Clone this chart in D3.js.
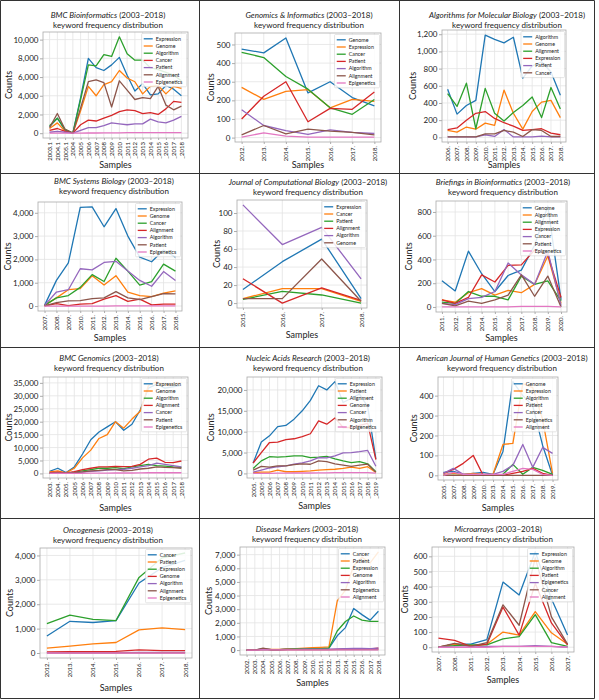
<!DOCTYPE html>
<html><head><meta charset="utf-8">
<script src="https://cdn.jsdelivr.net/npm/d3@7"></script>
<style>
body{margin:0;background:#fff;}
svg{display:block;}
text{font-family:Lato,"Open Sans",sans-serif;font-weight:400;fill:#222;}
</style>
</head><body>
<svg id="chart" width="599" height="700"></svg>
<script>
// ---------- DATA ----------
const p1Journal = "BMC Bioinformatics";
const p1Categories = ["2003.1","2004.1","2005.1","_2004","_2005","_2006","_2007","_2008","_2009","_2010","_2011","_2012","_2013","_2014","_2015","_2016","_2017","_2018"];
const p1Keywords = ["Expression","Genome","Algorithm","Cancer","Patient","Alignment","Epigenetics"];
const p1Counts = [
  [700,1600,300,0,3800,8000,7000,6700,7300,8100,6200,4500,5300,4100,4200,5100,4700,4000],
  [500,1100,200,0,2400,5000,4000,5200,5500,6700,5900,5500,4200,5000,5100,4200,5000,4800],
  [800,1600,400,0,3600,7300,7200,8400,8200,10300,8500,7800,7800,7000,6800,6500,6200,5600],
  [300,500,200,0,900,1400,1300,1600,1900,2300,2500,2400,2100,2200,2000,2600,3400,3300],
  [100,200,100,0,300,600,600,800,1100,1000,900,1000,1000,1500,1200,1100,1400,1800],
  [600,2100,400,0,2700,5500,5700,5400,2800,5600,4600,3600,3800,3700,5000,3000,2500,2900],
  [0,0,0,0,0,20,20,30,40,40,50,50,50,60,60,60,60,70]
];
const p1YTicks = [0,2000,4000,6000,8000,10000];

const p2Journal = "Genomics & Informatics";
const p2Categories = ["2012.","2013.","2014.","2015.","2016.","2017.","2018."];
const p2Keywords = ["Genome","Expression","Cancer","Patient","Algorithm","Alignment","Epigenetics"];
const p2Counts = [
  [475,455,535,240,300,215,170],
  [270,205,248,258,160,205,195],
  [458,430,328,260,160,125,205],
  [100,222,300,85,157,152,245],
  [150,65,38,17,42,28,22],
  [15,65,20,45,35,28,15],
  [3,25,8,3,3,3,3]
];
const p2YTicks = [0,100,200,300,400,500];

const p3Journal = "Algorithms for Molecular Biology";
const p3Categories = ["2006.","2007.","2008.","2009.","2010.","2011.","2012.","2013.","2014.","2015.","2016.","2017.","2018."];
const p3Keywords = ["Algorithm","Genome","Alignment","Expression","Patient","Cancer"];
const p3Counts = [
  [560,270,370,430,1190,1140,1100,1165,690,830,880,760,490],
  [80,60,120,95,165,140,550,280,95,300,410,430,230],
  [510,360,630,100,570,280,190,290,370,470,230,580,330],
  [90,110,200,280,300,220,170,130,80,90,100,50,30],
  [5,5,5,5,30,10,90,5,5,5,15,5,5],
  [5,5,5,5,40,40,80,60,10,90,80,10,10]
];
const p3YTicks = [0,200,400,600,800,1000,1200];

const p4Journal = "BMC Systems Biology";
const p4Categories = ["2007.","2008.","2009.","2010.","2011.","2012.","2013.","2014.","2015.","2016.","2017.","2018."];
const p4Keywords = ["Expression","Genome","Cancer","Alignment","Algorithm","Patient","Epigenetics"];
const p4Counts = [
  [30,1100,1850,4230,4250,3400,4180,3000,2100,1900,2400,2100],
  [30,350,700,750,1300,900,1300,600,450,400,550,650],
  [30,350,450,800,1350,1050,2050,1500,900,1050,1800,1500],
  [10,100,20,80,100,300,450,200,300,50,80,80],
  [30,600,700,1600,1550,1870,1920,1500,1100,850,1480,1100],
  [10,150,220,230,320,350,620,350,280,400,530,520],
  [0,0,0,0,0,0,10,10,10,10,10,10]
];
const p4YTicks = [0,1000,2000,3000,4000];

const p5Journal = "Journal of Computational Biology";
const p5Categories = ["2015.","2016.","2017.","2018."];
const p5Keywords = ["Expression","Cancer","Patient","Alignment","Algorithm","Genome"];
const p5Counts = [
  [15,46,71,5],
  [5,16,16,2],
  [4,13,9,0],
  [27,0,17,3],
  [109,65,84,27],
  [5,5,49,2]
];
const p5YTicks = [0,20,40,60,80,100];

const p6Journal = "Briefings in Bioinformatics";
const p6Categories = ["2011.","2012.","2013.","2014.","2015.","2016.","2017.","2018.","2019.","2020."];
const p6Keywords = ["Genome","Algorithm","Alignment","Expression","Cancer","Patient","Epigenetics"];
const p6Counts = [
  [220,135,470,280,130,265,310,520,850,60],
  [60,40,120,155,100,140,120,190,430,30],
  [40,30,130,90,90,60,260,190,220,50],
  [60,30,80,270,210,350,355,480,440,80],
  [30,20,70,80,130,370,270,190,470,10],
  [30,10,50,30,60,100,270,90,260,0],
  [0,0,0,0,0,0,5,5,5,0]
];
const p6YTicks = [0,200,400,600,800];

const p7Journal = "BMC Genomics";
const p7Categories = ["2003.","2004.","2005.","_2005","_2006","_2007","_2008","_2009","_2010","_2011","_2012","_2013","_2014","_2015","_2016","_2017","_2018"];
const p7Keywords = ["Expression","Genome","Algorithm","Alignment","Cancer","Patient","Epigenetics"];
const p7Counts = [
  [800,2000,300,2500,7500,13000,16000,18000,20000,16700,19000,24500,33000,34500,33000,33500,34000],
  [600,1000,200,2000,6000,9000,13500,15000,20000,17500,21000,24000,34000,35500,34000,34500,35000],
  [100,200,100,500,1000,1500,2000,2000,2200,1800,2500,3000,3500,3000,2800,2500,2300],
  [300,500,100,700,1500,2000,2500,2500,2700,2600,2700,3500,5500,5900,4300,4200,4800],
  [50,100,50,300,500,800,1000,1300,1500,1600,2000,2500,3000,4000,3500,3000,2500],
  [50,100,50,300,600,1000,1200,1500,1500,1000,1200,1700,2000,2500,2300,2200,2000],
  [0,0,0,0,50,100,100,100,150,150,150,200,250,250,250,250,250]
];
const p7YTicks = [0,5000,10000,15000,20000,25000,30000,35000];

const p8Journal = "Nucleic Acids Research";
const p8Categories = ["2005.","_2005","_2006","_2007","_2008","_2009","_2010","_2011","_2012","_2013","_2014","_2015","_2016","_2017","_2018","_2019"];
const p8Keywords = ["Expression","Patient","Alignment","Genome","Cancer","Algorithm","Epigenetics"];
const p8Counts = [
  [2500,7500,9000,11200,11500,13000,15000,17500,21000,20000,22000,17000,18000,19000,16000,3500],
  [200,300,300,800,400,400,500,600,800,900,1000,1200,1500,1200,1600,200],
  [1200,3000,4000,3900,4000,4200,4200,3800,3900,4100,3500,3000,2600,2800,2300,400],
  [2500,5000,7400,7500,8100,8300,8800,9500,12600,11800,13300,11000,11000,11500,12000,3300],
  [300,800,1300,1600,1800,2200,2500,3000,3800,3700,4200,4900,5000,5200,5500,1700],
  [800,1700,1500,1800,1800,2100,2300,2200,3000,2800,2300,2000,1700,2000,2200,300],
  [0,0,0,50,50,100,100,100,150,150,200,200,200,200,200,50]
];
const p8YTicks = [0,5000,10000,15000,20000];

const p9Journal = "American Journal of Human Genetics";
const p9Categories = ["2005.","2007.","2008.","2009.","2010.","2013.","2014.","2015.","2016.","2017.","2018.","2019."];
const p9Keywords = ["Genome","Expression","Algorithm","Patient","Cancer","Epigenetics","Alignment"];
const p9Counts = [
  [15,20,5,10,15,5,120,470,400,350,150,0],
  [5,10,5,10,5,5,155,160,460,440,280,10],
  [0,0,0,0,0,0,5,55,5,40,25,5],
  [10,30,60,100,0,0,0,10,20,35,10,0],
  [10,35,5,5,5,5,20,50,155,40,140,110],
  [0,0,0,0,0,0,0,0,0,0,0,0],
  [0,15,5,5,5,5,5,20,35,30,5,0]
];
const p9YTicks = [0,100,200,300,400];

const p10Journal = "Oncogenesis";
const p10Categories = ["2012.","2013.","2014.","2015.","2016.","2017.","2018."];
const p10Keywords = ["Cancer","Patient","Expression","Genome","Algorithm","Alignment","Epigenetics"];
const p10Counts = [
  [700,1300,1250,1330,2870,3500,3800],
  [200,280,370,430,950,1030,960],
  [1200,1550,1380,1330,3100,3900,4100],
  [50,60,60,70,130,100,100],
  [10,10,10,10,20,20,20],
  [5,5,5,5,10,10,10],
  [0,0,0,0,0,0,0]
];
const p10YTicks = [0,1000,2000,3000,4000];

const p11Journal = "Disease Markers";
const p11Categories = ["2002.","2003.","2004.","2005.","2006.","2007.","2008.","2009.","2010.","2011.","2012.","2013.","2014.","2015.","2016.","2017.","2018."];
const p11Keywords = ["Cancer","Patient","Expression","Genome","Algorithm","Epigenetics","Alignment"];
const p11Counts = [
  [0,0,100,30,30,100,80,100,100,100,150,1050,1650,3050,2600,2200,2850],
  [0,20,50,50,50,80,100,150,180,200,230,3600,4400,6200,6800,6400,7200],
  [0,0,50,20,30,50,80,80,100,100,150,1400,2100,2500,2200,2100,2100],
  [0,0,50,20,20,30,30,30,30,30,30,50,80,100,100,80,150],
  [0,0,50,30,30,50,50,60,60,60,60,80,100,120,120,100,150],
  [0,0,150,30,30,30,30,30,30,30,30,30,30,30,30,30,30],
  [0,0,10,10,10,10,10,10,10,10,10,10,10,10,10,10,10]
];
const p11YTicks = [0,1000,2000,3000,4000,5000,6000,7000];

const p12Journal = "Microarrays";
const p12Categories = ["2007.","2008.","2011.","2012.","2013.","2014.","2015.","2016.","2017."];
const p12Keywords = ["Expression","Genome","Algorithm","Patient","Epigenetics","Cancer","Alignment"];
const p12Counts = [
  [0,20,20,50,430,345,630,320,80],
  [0,20,10,20,100,80,235,95,20],
  [0,10,15,15,55,70,215,30,5],
  [60,45,5,20,265,80,420,160,15],
  [0,0,0,5,5,5,10,5,0],
  [0,25,5,30,280,145,590,200,20],
  [0,0,0,0,5,5,5,5,0]
];
const p12YTicks = [0,100,200,300,400,500,600];

const titleSuffix = " (2003\u20132018)";
const titleLine2 = "keyword frequency distribution";
const yLabel = "Counts";
const xLabel = "Samples";

// ---------- STYLE / LAYOUT ----------
const FONT = 'Lato,"Open Sans",sans-serif';
const palette = ["#1f77b4","#ff7f0e","#2ca02c","#d62728","#9467bd","#8c564b","#e377c2"];

const panels = [
  {journal:p1Journal, cats:p1Categories, keys:p1Keywords, vals:p1Counts, ticks:p1YTicks},
  {journal:p2Journal, cats:p2Categories, keys:p2Keywords, vals:p2Counts, ticks:p2YTicks},
  {journal:p3Journal, cats:p3Categories, keys:p3Keywords, vals:p3Counts, ticks:p3YTicks},
  {journal:p4Journal, cats:p4Categories, keys:p4Keywords, vals:p4Counts, ticks:p4YTicks},
  {journal:p5Journal, cats:p5Categories, keys:p5Keywords, vals:p5Counts, ticks:p5YTicks},
  {journal:p6Journal, cats:p6Categories, keys:p6Keywords, vals:p6Counts, ticks:p6YTicks},
  {journal:p7Journal, cats:p7Categories, keys:p7Keywords, vals:p7Counts, ticks:p7YTicks},
  {journal:p8Journal, cats:p8Categories, keys:p8Keywords, vals:p8Counts, ticks:p8YTicks},
  {journal:p9Journal, cats:p9Categories, keys:p9Keywords, vals:p9Counts, ticks:p9YTicks},
  {journal:p10Journal, cats:p10Categories, keys:p10Keywords, vals:p10Counts, ticks:p10YTicks},
  {journal:p11Journal, cats:p11Categories, keys:p11Keywords, vals:p11Counts, ticks:p11YTicks},
  {journal:p12Journal, cats:p12Categories, keys:p12Keywords, vals:p12Counts, ticks:p12YTicks}
];

// plot boxes: L,R,T,B ; title center x, title baseline y ; y-label x ; x-label baseline y
const layouts = [
  {L:43, R:188,T:32, B:138,tx:108,ty:18, cx:9,  sy:168},
  {L:235,R:381,T:33, B:142,tx:309,ty:18, cx:211,sy:168},
  {L:442,R:566,T:30, B:142,tx:507,ty:18, cx:413,sy:168},
  {L:38, R:182,T:202,B:311,tx:114,ty:184,cx:8,  sy:341},
  {L:237,R:367,T:200,B:308,tx:308,ty:185,cx:217,sy:338},
  {L:436,R:567,T:201,B:312,tx:503,ty:185,cx:409,sy:341},
  {L:43, R:188,T:377,B:478,tx:109,ty:361,cx:9,  sy:511},
  {L:247,R:382,T:377,B:478,tx:308,ty:361,cx:211,sy:509},
  {L:438,R:558,T:377,B:480,tx:502,ty:361,cx:414,sy:511},
  {L:40, R:192,T:548,B:658,tx:108,ty:533,cx:10, sy:691},
  {L:240,R:385,T:547,B:655,tx:307,ty:532,cx:209,sy:686},
  {L:432,R:574,T:547,B:652,tx:498,ty:532,cx:405,sy:683}
];

const svg = d3.select("#chart");
svg.append("rect").attr("width",599).attr("height",700).attr("fill","#fff");

// table frame
const gridG = svg.append("g").attr("stroke","#333").attr("stroke-width",1).attr("fill","none");
[0.5,173.5,347.5,518.5,698.5].forEach(y=>gridG.append("line").attr("x1",0.5).attr("x2",594.5).attr("y1",y).attr("y2",y));
[0.5,199.5,399.5,594.5].forEach(x=>gridG.append("line").attr("x1",x).attr("x2",x).attr("y1",0.5).attr("y2",698.5));

panels.forEach((p,i)=>{
  const lay = layouts[i];
  const g = svg.append("g");
  const n = p.cats.length;
  const x = d3.scaleLinear().domain([-0.05*(n-1),(n-1)*1.05]).range([lay.L,lay.R]);
  const all = p.vals.flat();
  const mn = d3.min(all), mx = d3.max(all), r = mx-mn;
  const y = d3.scaleLinear().domain([mn-0.05*r, mx+0.05*r]).range([lay.B,lay.T]);

  // background grid
  const grid = g.append("g").attr("stroke","#e3e3e3").attr("stroke-width",0.8);
  p.cats.forEach((c,k)=>grid.append("line").attr("x1",x(k)).attr("x2",x(k)).attr("y1",lay.T).attr("y2",lay.B));
  p.ticks.forEach(t=>grid.append("line").attr("x1",lay.L).attr("x2",lay.R).attr("y1",y(t)).attr("y2",y(t)));

  // axes via d3
  const yAxis = d3.axisLeft(y).tickValues(p.ticks).tickFormat(d3.format(",")).tickSize(3).tickPadding(1.5);
  const ya = g.append("g").attr("transform",`translate(${lay.L},0)`).call(yAxis);
  ya.attr("font-family",FONT);
  ya.select(".domain").remove();
  ya.selectAll("line").attr("stroke","#888").attr("stroke-width",0.7);
  ya.selectAll("text").attr("font-size",8).attr("fill","#333");

  const xAxis = d3.axisBottom(x).tickValues(d3.range(n)).tickFormat(k=>p.cats[k]).tickSize(2).tickPadding(1.5);
  const xa = g.append("g").attr("transform",`translate(0,${lay.B})`).call(xAxis);
  xa.attr("font-family",FONT);
  xa.select(".domain").remove();
  xa.selectAll("line").attr("stroke","#888").attr("stroke-width",0.7);
  xa.selectAll("text").attr("font-size",6).attr("fill","#333")
    .attr("transform","rotate(-90)").attr("text-anchor","end").attr("dy","0.32em").attr("x",-4).attr("y",0);

  // frame
  g.append("rect").attr("x",lay.L).attr("y",lay.T).attr("width",lay.R-lay.L).attr("height",lay.B-lay.T)
    .attr("fill","none").attr("stroke","#aaa").attr("stroke-width",0.8);

  // lines
  const line = d3.line().x((d,k)=>x(k)).y(d=>y(d));
  p.vals.forEach((s,j)=>{
    g.append("path").datum(s).attr("d",line).attr("fill","none")
      .attr("stroke",palette[j]).attr("stroke-width",1.3).attr("stroke-linejoin","round");
  });

  // legend
  const lg = g.append("g");
  const fs = 5.3, rowH = 7.2, pad = 2.2, lineLen = 9;
  const box = lg.append("rect").attr("fill","#fff").attr("fill-opacity",0.85).attr("stroke","#ccc").attr("stroke-width",0.5).attr("rx",1);
  let maxW = 0;
  const items = [];
  p.keys.forEach((k,j)=>{
    const t = lg.append("text").attr("font-size",fs).attr("fill","#333").text(k);
    maxW = Math.max(maxW, t.node().getComputedTextLength());
    items.push(t);
  });
  const boxW = pad + lineLen + 3 + maxW + pad + 2;
  const boxH = pad*2 + rowH*p.keys.length - 1.5;
  const bx = lay.R - 1.5 - boxW, by = lay.T + 1.5;
  box.attr("x",bx).attr("y",by).attr("width",boxW).attr("height",boxH);
  p.keys.forEach((k,j)=>{
    const cy = by + pad + rowH*j + rowH/2 - 0.5;
    lg.append("line").attr("x1",bx+pad).attr("x2",bx+pad+lineLen).attr("y1",cy).attr("y2",cy)
      .attr("stroke",palette[j]).attr("stroke-width",1.3);
    items[j].attr("x",bx+pad+lineLen+3).attr("y",cy).attr("dy","0.35em");
  });

  // title
  const tt = g.append("text").attr("x",lay.tx).attr("y",lay.ty).attr("text-anchor","middle").attr("font-size",8);
  tt.append("tspan").attr("font-style","italic").text(p.journal);
  tt.append("tspan").text(titleSuffix);
  g.append("text").attr("x",lay.tx).attr("y",lay.ty+9.5).attr("text-anchor","middle").attr("font-size",8).text(titleLine2);

  // axis labels
  g.append("text").attr("transform",`translate(${lay.cx},${(lay.T+lay.B)/2}) rotate(-90)`)
    .attr("text-anchor","middle").attr("dy","0.35em").attr("font-size",9).text(yLabel);
  g.append("text").attr("x",(lay.L+lay.R)/2).attr("y",lay.sy).attr("text-anchor","middle").attr("font-size",9).text(xLabel);
});
</script>
</body></html>
